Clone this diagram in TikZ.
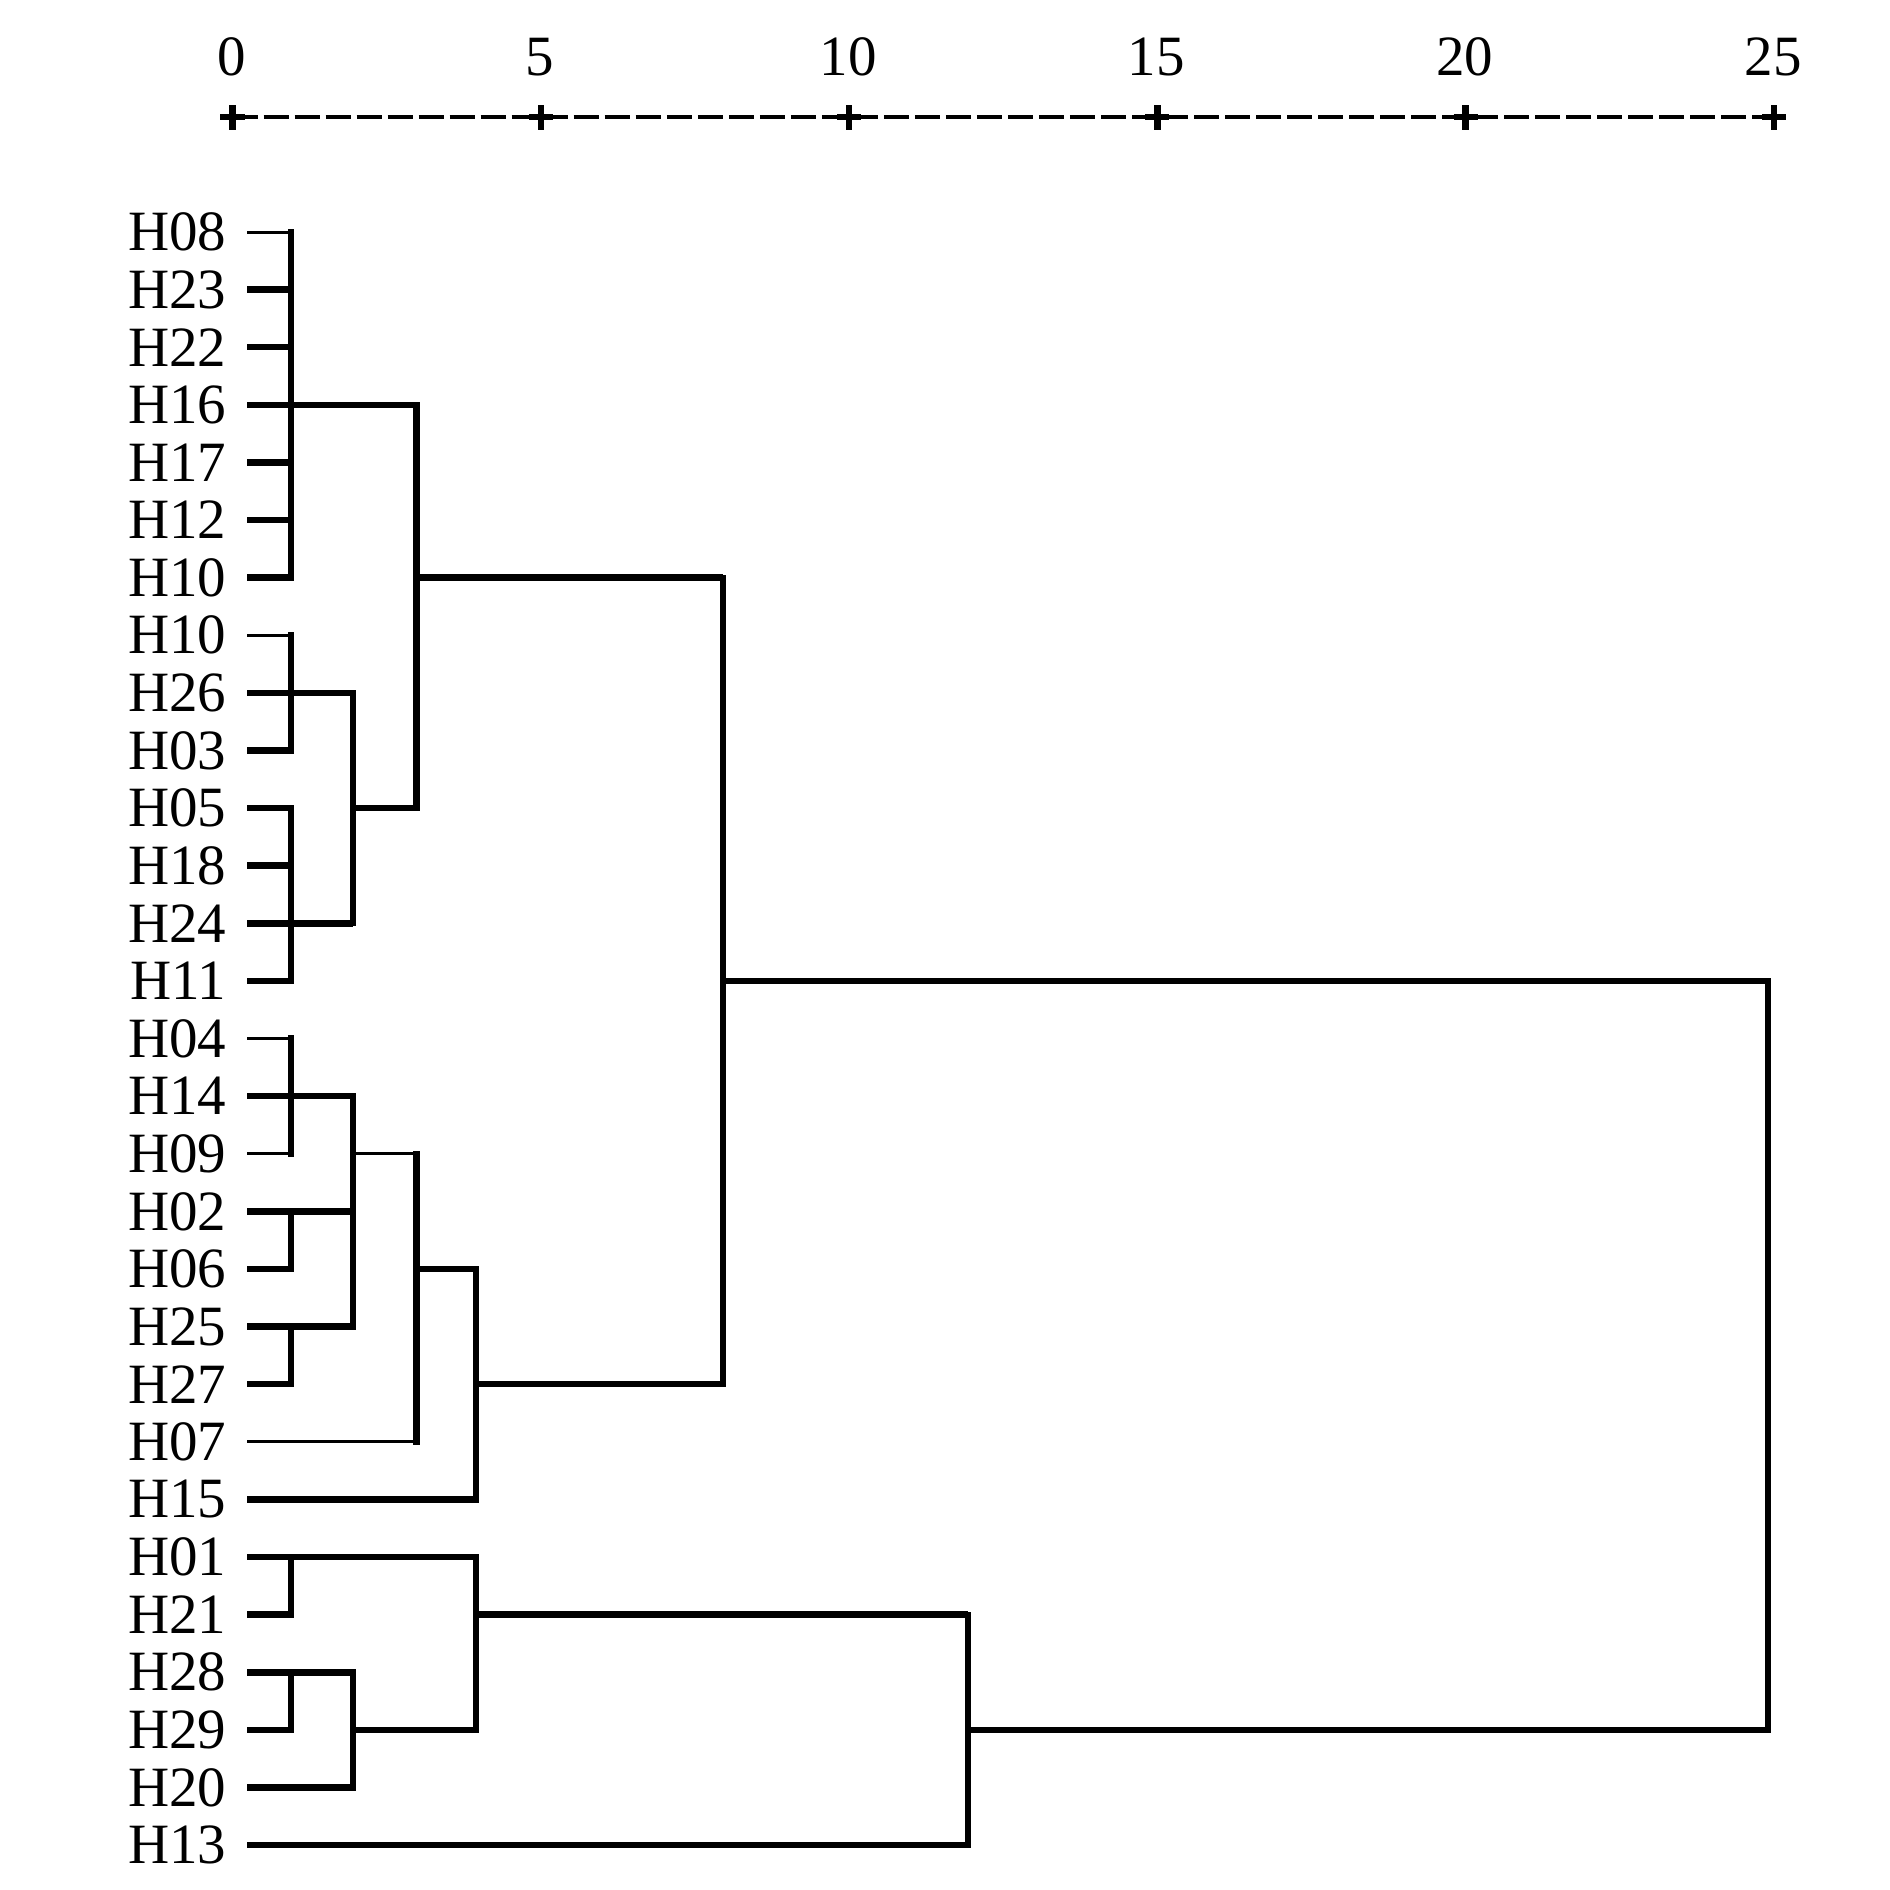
\documentclass[tikz,border=0pt]{standalone}
\usepackage{fontspec}
\setmainfont{Liberation Serif}
\begin{document}
\begin{tikzpicture}[x=0.01cm,y=-0.01cm,
  lbl/.style={anchor=east,inner sep=0pt,font=\fontsize{16.2}{19}\selectfont},
  axlbl/.style={anchor=center,inner sep=0pt,font=\fontsize{16.2}{19}\selectfont},
  thk/.style={line width=0.065cm},
  thn/.style={line width=0.03cm},
  vert/.style={line width=0.062cm,line cap=rect},
  axline/.style={line width=0.04cm,dash pattern=on 0.25cm off 0.06cm},
  tickmark/.style={line width=0.065cm}]
\useasboundingbox (0,0) rectangle (1890,1890);
% axis
\foreach \v [count=\k from 0] in {0,5,10,15,20,25}{
  \coordinate (t\v) at ({232.5+308.3*\k},117);
  \node[axlbl] (a\v) at ({231.5+308.3*\k},57) {\v};
}
\draw[axline] (t0) -- (t25);
\foreach \v in {0,5,10,15,20,25}{
  \draw[tickmark] ([xshift=-0.12cm]t\v) -- ([xshift=0.12cm]t\v);
  \draw[tickmark] ([yshift=0.12cm]t\v) -- ([yshift=-0.13cm]t\v);
}
% leaves
\foreach \t [count=\i from 0] in {H08,H23,H22,H16,H17,H12,H10,H10,H26,H03,H05,H18,H24,H11,H04,H14,H09,H02,H06,H25,H27,H07,H15,H01,H21,H28,H29,H20,H13}{
  \node[lbl] (n\i) at (227,{232+57.61*\i}) {\t};
  \coordinate (p\i) at (247,{232+57.61*\i});
}
% join levels
\coordinate (d1) at (291,0);
\coordinate (d2) at (353,0);
\coordinate (d3) at (416.5,0);
\coordinate (d4) at (476,0);
\coordinate (d8) at (723,0);
\coordinate (d12) at (968,0);
\coordinate (d25) at (1768,0);
% leaf lines to d1
\foreach \i in {0,7,14,16}{\draw[thn] (p\i) -- (p\i -| d1);}
\foreach \i in {1,2,4,5,6,9,10,11,13,18,20,24,26}{\draw[thk] (p\i) -- (p\i -| d1);}
% leaf lines to d2
\foreach \i in {8,12,15,17,19,25,27}{\draw[thk] (p\i) -- (p\i -| d2);}
% other leaf lines
\draw[thk] (p3) -- (p3 -| d3);
\draw[thn] (p21) -- (p21 -| d3);
\draw[thk] (p22) -- (p22 -| d4);
\draw[thk] (p23) -- (p23 -| d4);
\draw[thk] (p28) -- (p28 -| d12);
% inner horizontals
\draw[thk] (p6 -| d3) -- (p6 -| d8);
\draw[thk] (p10 -| d2) -- (p10 -| d3);
\draw[thk] (p13 -| d8) -- (p13 -| d25);
\draw[thn] (p16 -| d2) -- (p16 -| d3);
\draw[thk] (p18 -| d3) -- (p18 -| d4);
\draw[thk] (p20 -| d4) -- (p20 -| d8);
\draw[thk] (p24 -| d4) -- (p24 -| d12);
\draw[thk] (p26 -| d2) -- (p26 -| d4);
\draw[thk] (p26 -| d12) -- (p26 -| d25);
% verticals
\foreach \a/\b in {0/6,7/9,10/13,14/16,17/18,19/20,23/24,25/26}{\draw[vert] (p\a -| d1) -- (p\b -| d1);}
\foreach \a/\b in {8/12,15/19,25/27}{\draw[vert] (p\a -| d2) -- (p\b -| d2);}
\foreach \a/\b in {3/10,16/21}{\draw[vert] (p\a -| d3) -- (p\b -| d3);}
\foreach \a/\b in {18/22,23/26}{\draw[vert] (p\a -| d4) -- (p\b -| d4);}
\draw[vert] (p6 -| d8) -- (p20 -| d8);
\draw[vert] (p24 -| d12) -- (p28 -| d12);
\draw[vert] (p13 -| d25) -- (p26 -| d25);
\end{tikzpicture}
\end{document}
